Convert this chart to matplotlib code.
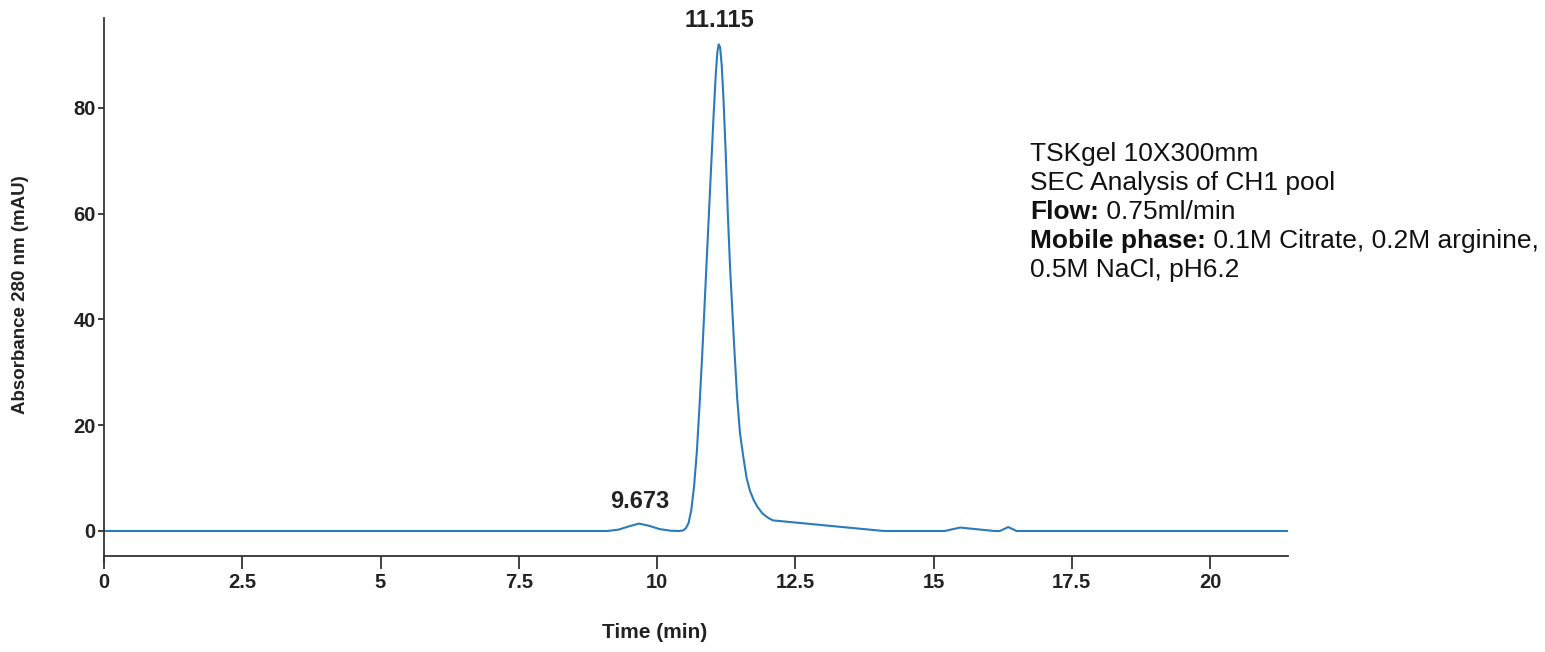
import matplotlib
matplotlib.use("Agg")
import matplotlib.pyplot as plt
from matplotlib.ticker import FuncFormatter

plt.rcParams['font.family'] = ['Liberation Sans', 'DejaVu Sans']

# Chromatogram (time in min, absorbance in mAU)
time_min = [0.0, 9.1, 9.3, 9.5, 9.673, 9.85, 10.05, 10.25, 10.40,
            10.47, 10.52, 10.57, 10.62, 10.67, 10.72, 10.77, 10.82, 10.87,
            10.92, 10.97, 11.02, 11.06, 11.09, 11.115, 11.14, 11.17, 11.20,
            11.24, 11.28, 11.32, 11.36, 11.40, 11.45, 11.50, 11.56, 11.62,
            11.68, 11.75, 11.82, 11.90, 11.98, 12.04, 12.10, 13.1, 14.1,
            15.2, 15.48, 16.1, 16.2, 16.35, 16.5, 21.4]
absorbance = [0.0, 0.0, 0.25, 0.9, 1.4, 1.0, 0.35, 0.05, 0.0,
              0.1, 0.5, 1.5, 4.0, 8.5, 15.0, 24.0, 34.0, 45.0,
              56.0, 67.0, 78.0, 86.0, 90.5, 92.0, 91.5, 88.0, 82.0,
              72.0, 60.0, 50.0, 42.0, 34.0, 25.0, 18.5, 14.0, 10.0,
              7.6, 5.8, 4.5, 3.4, 2.7, 2.3, 2.0, 1.0, 0.0,
              0.0, 0.65, 0.0, 0.0, 0.75, 0.0, 0.0]

peak_times = [11.115, 9.673]
peak_labels = ["11.115", "9.673"]
peak_label_y = [95.3, 4.35]

x_ticks = [0, 2.5, 5, 7.5, 10, 12.5, 15, 17.5, 20]
y_ticks = [0, 20, 40, 60, 80]

fig = plt.figure(figsize=(15.45, 6.52), dpi=100)
ax = fig.add_axes([0.0673, 0.1396, 0.7664, 0.8328])

ax.plot(time_min, absorbance, color='#2b7bbb', linewidth=1.5)

# peak retention time labels
for t, lab, ly in zip(peak_times, peak_labels, peak_label_y):
    ax.text(t + 0.02, ly, lab, ha='center', va='baseline', fontsize=17,
            fontweight='bold', color='#222222', clip_on=False)

ax.set_xlim(0, 21.41)
ax.set_ylim(-5.67, 97)
ax.set_xticks(x_ticks)
ax.set_yticks(y_ticks)
ax.xaxis.set_major_formatter(FuncFormatter(lambda v, p: f"{v:g}"))

ax.spines['top'].set_visible(False)
ax.spines['right'].set_visible(False)
ax.spines['bottom'].set_position(('data', -4.73))
for s in ('left', 'bottom'):
    ax.spines[s].set_color('#333333')
    ax.spines[s].set_linewidth(1.3)

ax.tick_params(axis='x', length=9.5, width=1.3, color='#333333', pad=3,
               labelsize=14.5, labelcolor='#222222')
ax.tick_params(axis='y', length=4.5, width=1.3, color='#333333', pad=1.5,
               labelsize=14.5, labelcolor='#222222')
for lbl in ax.get_xticklabels() + ax.get_yticklabels():
    lbl.set_fontweight('bold')

fig.text(0.4239, 0.015, "Time (min)", ha='center', va='bottom',
         fontsize=15, fontweight='bold', color='#222222')
fig.text(0.013, 0.548, "Absorbance 280 nm (mAU)", rotation=90, ha='center',
         va='center', fontsize=13.5, fontweight='bold', color='#222222')

# method info block
info_lines = [
    ("", "TSKgel 10X300mm"),
    ("", "SEC Analysis of CH1 pool"),
    ("Flow:", " 0.75ml/min"),
    ("Mobile phase:", " 0.1M Citrate, 0.2M arginine,"),
    ("", "0.5M NaCl, pH6.2"),
]
y0 = 0.753
for i, (bold, rest) in enumerate(info_lines):
    y = y0 - i * 0.0445
    x = 0.6667
    if bold:
        t = fig.text(x, y, bold, fontsize=19, fontweight='bold',
                     color='#111111', va='baseline')
        fig.canvas.draw()
        x = t.get_window_extent().x1 / fig.bbox.width
    fig.text(x, y, rest, fontsize=19, color='#111111', va='baseline')

fig.savefig("out.png", dpi=100)
